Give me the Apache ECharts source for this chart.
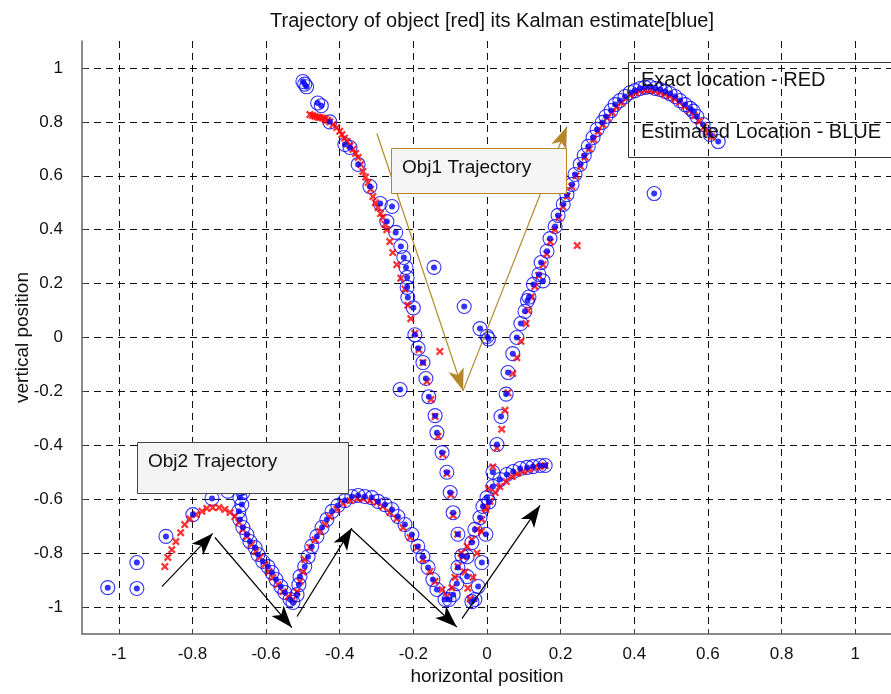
<!DOCTYPE html>
<html style="height: 100%">
<head>
    <meta charset="utf-8">
    <script src="https://cdn.jsdelivr.net/npm/echarts@6/dist/echarts.min.js"></script>
</head>
<body style="height: 100%; width: 100%; margin: 0; background-color: #fff;">

    <div id="container" style="width: 891px; height: 694px;"></div>

    <script type="text/javascript">

        // tick positions on both axes
        var xTicks = [-1, -0.8, -0.6, -0.4, -0.2, 0, 0.2, 0.4, 0.6, 0.8, 1];
        var yTicks = [-1, -0.8, -0.6, -0.4, -0.2, 0, 0.2, 0.4, 0.6, 0.8, 1];

        // object 1: exact location (red)
        var obj1True = [
            [-0.481, 0.827], [-0.474, 0.824], [-0.467, 0.82], [-0.46, 0.818], [-0.454, 0.816], [-0.447, 0.814],
            [-0.44, 0.811], [-0.433, 0.806], [-0.427, 0.80], [-0.418, 0.79], [-0.408, 0.779], [-0.4, 0.765],
            [-0.394, 0.753], [-0.387, 0.74], [-0.38, 0.727], [-0.372, 0.712], [-0.364, 0.698], [-0.357, 0.683],
            [-0.35, 0.668], [-0.343, 0.642], [-0.337, 0.616], [-0.33, 0.595], [-0.323, 0.575], [-0.316, 0.55],
            [-0.31, 0.523], [-0.303, 0.50], [-0.296, 0.482], [-0.289, 0.46], [-0.283, 0.445], [-0.277, 0.42],
            [-0.272, 0.40], [-0.264, 0.356], [-0.256, 0.315], [-0.245, 0.27], [-0.234, 0.22], [-0.223, 0.18],
            [-0.215, 0.12], [-0.207, 0.07], [-0.196, 0.015], [-0.185, -0.045], [-0.174, -0.093], [-0.163, -0.163],
            [-0.152, -0.23], [-0.141, -0.293], [-0.133, -0.367], [-0.12, -0.434], [-0.109, -0.505], [-0.098, -0.583],
            [-0.092, -0.66], [-0.08, -0.73], [-0.07, -0.80], [-0.06, -0.87], [-0.052, -0.93], [-0.046, -0.97],
            [-0.038, -0.89], [-0.027, -0.80], [-0.015, -0.72], [-0.005, -0.63], [0.005, -0.56], [0.016, -0.48],
            [0.027, -0.41], [0.04, -0.34], [0.049, -0.27], [0.057, -0.205], [0.07, -0.134], [0.081, -0.075],
            [0.092, -0.014], [0.106, 0.052], [0.112, 0.10],
            [0.12, 0.15], [0.13, 0.19], [0.14, 0.23], [0.152, 0.27], [0.162, 0.31], [0.172, 0.355], [0.184, 0.40],
            [0.195, 0.445], [0.206, 0.485], [0.218, 0.525], [0.23, 0.56], [0.242, 0.60], [0.254, 0.635],
            [0.266, 0.67], [0.278, 0.70], [0.29, 0.735], [0.302, 0.765], [0.315, 0.79], [0.327, 0.815],
            [0.34, 0.835], [0.352, 0.855], [0.365, 0.872], [0.378, 0.887], [0.39, 0.90], [0.403, 0.908],
            [0.416, 0.915], [0.43, 0.918], [0.443, 0.918], [0.456, 0.915], [0.47, 0.91], [0.483, 0.903],
            [0.496, 0.895], [0.51, 0.885], [0.523, 0.872], [0.536, 0.858], [0.55, 0.842], [0.563, 0.823],
            [0.576, 0.802], [0.589, 0.78], [0.6, 0.76], [0.61, 0.745],
            [0.245, 0.341], [-0.128, -0.052]
        ];

        // object 1: Kalman estimate (blue)
        var obj1Est = [
            [-0.5, 0.95], [-0.495, 0.94], [-0.49, 0.93], [-0.46, 0.87], [-0.45, 0.86], [-0.427, 0.80],
            [-0.386, 0.716], [-0.372, 0.705], [-0.35, 0.642], [-0.318, 0.56], [-0.29, 0.497], [-0.258, 0.486],
            [-0.272, 0.43], [-0.248, 0.39], [-0.234, 0.338], [-0.226, 0.297], [-0.22, 0.26], [-0.217, 0.223],
            [-0.217, 0.186], [-0.215, 0.148], [-0.2, 0.11], [-0.144, 0.26], [-0.196, 0.01], [-0.187, -0.04],
            [-0.174, -0.093], [-0.166, -0.152], [-0.158, -0.22], [-0.141, -0.29], [-0.136, -0.353], [-0.122, -0.427],
            [-0.109, -0.50], [-0.1, -0.575], [-0.092, -0.65], [-0.079, -0.73], [-0.068, -0.81], [-0.054, -0.887],
            [-0.041, -0.98], [-0.033, -0.972], [-0.024, -0.924], [-0.014, -0.835], [-0.003, -0.73], [0.005, -0.61],
            [0.016, -0.50], [0.027, -0.397], [0.038, -0.293], [0.052, -0.21], [0.057, -0.13], [0.07, -0.06],
            [0.081, 0.0], [0.092, 0.052], [0.103, 0.097], [0.11, 0.137], [0.114, 0.15], [0.126, 0.197],
            [0.141, 0.234], [0.152, 0.21], [0.147, 0.278], [0.163, 0.32], [0.171, 0.367], [0.185, 0.412],
            [0.193, 0.453], [0.207, 0.494], [0.217, 0.53], [0.231, 0.568], [0.239, 0.605], [0.253, 0.642],
            [0.264, 0.675], [0.275, 0.709], [0.288, 0.742], [0.299, 0.772], [0.313, 0.798], [0.323, 0.82],
            [0.337, 0.842], [0.348, 0.864], [0.361, 0.879], [0.375, 0.894], [0.389, 0.909], [0.402, 0.916],
            [0.416, 0.924], [0.429, 0.928], [0.443, 0.93], [0.457, 0.924], [0.47, 0.92], [0.484, 0.913],
            [0.497, 0.905], [0.511, 0.894], [0.524, 0.879], [0.538, 0.864], [0.552, 0.85], [0.56, 0.84],
            [0.57, 0.82], [0.587, 0.79], [0.606, 0.753], [0.628, 0.727],
            [0.454, 0.534], [-0.236, -0.193], [-0.062, 0.115], [-0.019, 0.033], [0.0, 0.004], [0.004, -0.005]
        ];

        // object 2: exact location (red)
        var obj2True = [
            [-0.875, -0.85], [-0.867, -0.816], [-0.856, -0.787], [-0.845, -0.757], [-0.832, -0.724], [-0.821, -0.694],
            [-0.807, -0.672], [-0.79, -0.657], [-0.774, -0.645], [-0.761, -0.634], [-0.745, -0.631], [-0.728, -0.631],
            [-0.712, -0.638], [-0.698, -0.649], [-0.685, -0.664], [-0.674, -0.686], [-0.663, -0.712], [-0.652, -0.738],
            [-0.639, -0.768], [-0.628, -0.794], [-0.617, -0.816], [-0.603, -0.842], [-0.592, -0.868], [-0.582, -0.89],
            [-0.568, -0.917], [-0.554, -0.943], [-0.54, -0.961], [-0.527, -0.972], [-0.516, -0.943], [-0.508, -0.905],
            [-0.5, -0.87], [-0.495, -0.824], [-0.481, -0.779], [-0.467, -0.75], [-0.454, -0.72], [-0.44, -0.694],
            [-0.427, -0.664], [-0.408, -0.638], [-0.391, -0.616], [-0.372, -0.605], [-0.353, -0.597], [-0.337, -0.597],
            [-0.318, -0.605], [-0.299, -0.612], [-0.283, -0.627], [-0.264, -0.649], [-0.245, -0.672], [-0.228, -0.705],
            [-0.209, -0.742], [-0.19, -0.779], [-0.174, -0.824], [-0.155, -0.868], [-0.141, -0.905], [-0.122, -0.935],
            [-0.109, -0.961], [-0.095, -0.928], [-0.087, -0.89], [-0.079, -0.85], [-0.065, -0.813], [-0.054, -0.775],
            [-0.041, -0.75], [-0.027, -0.712], [-0.014, -0.675], [-0.003, -0.638], [0.008, -0.608], [0.022, -0.575],
            [0.035, -0.553], [0.052, -0.534], [0.068, -0.516], [0.082, -0.505], [0.098, -0.497], [0.114, -0.49],
            [0.13, -0.482], [0.144, -0.479], [0.158, -0.475]
        ];

        // object 2: Kalman estimate (blue)
        var obj2Est = [
            [-1.03, -0.928], [-0.951, -0.931], [-0.951, -0.835], [-0.872, -0.738], [-0.799, -0.657], [-0.747, -0.597],
            [-0.704, -0.57], [-0.668, -0.56], [-0.663, -0.575], [-0.671, -0.594], [-0.666, -0.62], [-0.674, -0.645],
            [-0.671, -0.675], [-0.663, -0.705], [-0.652, -0.731], [-0.644, -0.757], [-0.63, -0.779], [-0.622, -0.805],
            [-0.609, -0.831], [-0.595, -0.85], [-0.584, -0.872], [-0.573, -0.898], [-0.56, -0.924], [-0.549, -0.946],
            [-0.535, -0.972], [-0.527, -0.983], [-0.516, -0.954], [-0.511, -0.917], [-0.508, -0.887], [-0.495, -0.85],
            [-0.486, -0.813], [-0.476, -0.775], [-0.462, -0.738], [-0.448, -0.705], [-0.435, -0.675], [-0.421, -0.645],
            [-0.405, -0.623], [-0.386, -0.605], [-0.367, -0.59], [-0.35, -0.586], [-0.332, -0.59], [-0.313, -0.594],
            [-0.296, -0.608], [-0.277, -0.62], [-0.258, -0.638], [-0.242, -0.664], [-0.223, -0.694], [-0.204, -0.731],
            [-0.188, -0.775], [-0.174, -0.813], [-0.16, -0.853], [-0.147, -0.898], [-0.136, -0.935], [-0.114, -0.972],
            [-0.103, -0.972], [-0.092, -0.954], [-0.082, -0.913], [-0.079, -0.853], [-0.054, -0.813], [-0.041, -0.761],
            [-0.033, -0.712], [-0.019, -0.668], [-0.011, -0.627], [0.0, -0.594], [0.016, -0.553], [0.035, -0.527],
            [0.054, -0.508], [0.071, -0.497], [0.09, -0.486], [0.109, -0.482], [0.125, -0.479], [0.144, -0.475],
            [0.158, -0.475]
        ];

        // annotation arrows [from, to]
        var obj1Arrows = [
            [[-0.299, 0.757], [-0.065, -0.197]],
            [[-0.065, -0.197], [0.217, 0.783]]
        ];
        var obj2Arrows = [
            [[-0.883, -0.924], [-0.745, -0.727]],
            [[-0.739, -0.742], [-0.530, -1.076]],
            [[-0.516, -1.035], [-0.367, -0.707]],
            [[-0.367, -0.713], [-0.082, -1.074]],
            [[-0.068, -1.043], [0.144, -0.623]]
        ];

        var font = 'Liberation Sans';
        var crossPath = 'path://M0,2L2,0L5,3L8,0L10,2L7,5L10,8L8,10L5,7L2,10L0,8L3,5Z';

        function arrowLines(list, color) {
            var out = [];
            for (var i = 0; i < list.length; i++) {
                out.push([
                    { coord: list[i][0], symbol: 'none' },
                    { coord: list[i][1], symbol: 'arrow', symbolSize: [12, 22] }
                ]);
            }
            return {
                silent: true,
                animation: false,
                label: { show: false },
                emphasis: { disabled: true },
                lineStyle: { color: color, width: 1.2, type: 'solid' },
                itemStyle: { color: color },
                data: out
            };
        }
        function ringSeries(data) {
            return {
                type: 'scatter', data: data, symbol: 'circle', symbolSize: 14, z: 2,
                itemStyle: { color: 'rgba(255,255,255,0)', borderColor: '#0000ff', borderWidth: 1.1 }
            };
        }
        function crossSeries(data, arrows, color) {
            return {
                type: 'scatter', data: data, symbol: crossPath, symbolSize: 8, z: 3,
                itemStyle: { color: '#ff0000' },
                markLine: arrowLines(arrows, color)
            };
        }
        function dotSeries(data) {
            return {
                type: 'scatter', data: data, symbol: 'circle', symbolSize: 6, z: 4,
                itemStyle: { color: '#0000ff' }
            };
        }

        var dom = document.getElementById("container");
        var myChart = echarts.init(dom);

        var axisCommon = {
            type: 'value',
            min: -1.1,
            max: 1.1,
            nameLocation: 'middle',
            nameMoveOverlap: false,
            nameTextStyle: { fontFamily: font, fontSize: 19, color: '#111' },
            axisLine: { show: true, onZero: false, lineStyle: { color: '#666', width: 1.5 } },
            splitLine: { show: true, lineStyle: { type: [7, 5], color: '#111', width: 1 } }
        };

        var option = {
            animation: false,
            title: {
                text: 'Trajectory of object [red] its Kalman estimate[blue]',
                left: 487,
                top: 6,
                textAlign: 'center',
                textStyle: { fontFamily: font, fontSize: 20, fontWeight: 'normal', color: '#111' }
            },
            grid: { left: 82, top: 41, width: 810, height: 593, containLabel: false, outerBoundsMode: 'none' },
            xAxis: echarts.util.merge({
                name: 'horizontal position',
                nameGap: 33,
                axisTick: { show: true, inside: true, length: 5, customValues: xTicks, lineStyle: { color: '#444' } },
                axisLabel: { customValues: xTicks, fontFamily: font, fontSize: 17, color: '#111', margin: 12 }
            }, axisCommon),
            yAxis: echarts.util.merge({
                name: 'vertical position',
                nameGap: 50,
                nameRotate: 90,
                axisTick: { show: true, inside: true, length: 5, customValues: yTicks, lineStyle: { color: '#444' } },
                axisLabel: { customValues: yTicks, fontFamily: font, fontSize: 17, color: '#111', margin: 19 }
            }, axisCommon),
            series: [
                ringSeries(obj1Est),
                ringSeries(obj2Est),
                crossSeries(obj1True, obj1Arrows, '#b5862a'),
                crossSeries(obj2True, obj2Arrows, '#000'),
                dotSeries(obj1Est),
                dotSeries(obj2Est)
            ],
            graphic: [
                {
                    type: 'rect', z: 100,
                    shape: { x: 628.5, y: 62.5, width: 270, height: 95 },
                    style: { fill: 'none', stroke: '#333', lineWidth: 1 }
                },
                {
                    type: 'text', z: 101, x: 641, y: 80,
                    style: { text: 'Exact location - RED', font: '20px "Liberation Sans"', fill: '#111', verticalAlign: 'middle' }
                },
                {
                    type: 'text', z: 101, x: 641, y: 132,
                    style: { text: 'Estimated Location - BLUE', font: '20px "Liberation Sans"', fill: '#111', verticalAlign: 'middle' }
                },
                {
                    type: 'rect', z: 100,
                    shape: { x: 391.5, y: 148.5, width: 175, height: 45 },
                    style: { fill: '#f5f5f5', stroke: '#b5862a', lineWidth: 1 }
                },
                {
                    type: 'text', z: 101, x: 402, y: 168,
                    style: { text: 'Obj1 Trajectory', font: '19px "Liberation Sans"', fill: '#111', verticalAlign: 'middle' }
                },
                {
                    type: 'rect', z: 100,
                    shape: { x: 137.5, y: 442.5, width: 211, height: 51 },
                    style: { fill: '#f4f4f4', stroke: '#444', lineWidth: 1 }
                },
                {
                    type: 'text', z: 101, x: 148, y: 462,
                    style: { text: 'Obj2 Trajectory', font: '19px "Liberation Sans"', fill: '#111', verticalAlign: 'middle' }
                }
            ]
        };

        myChart.setOption(option, true);

    </script>
</body>
</html>
